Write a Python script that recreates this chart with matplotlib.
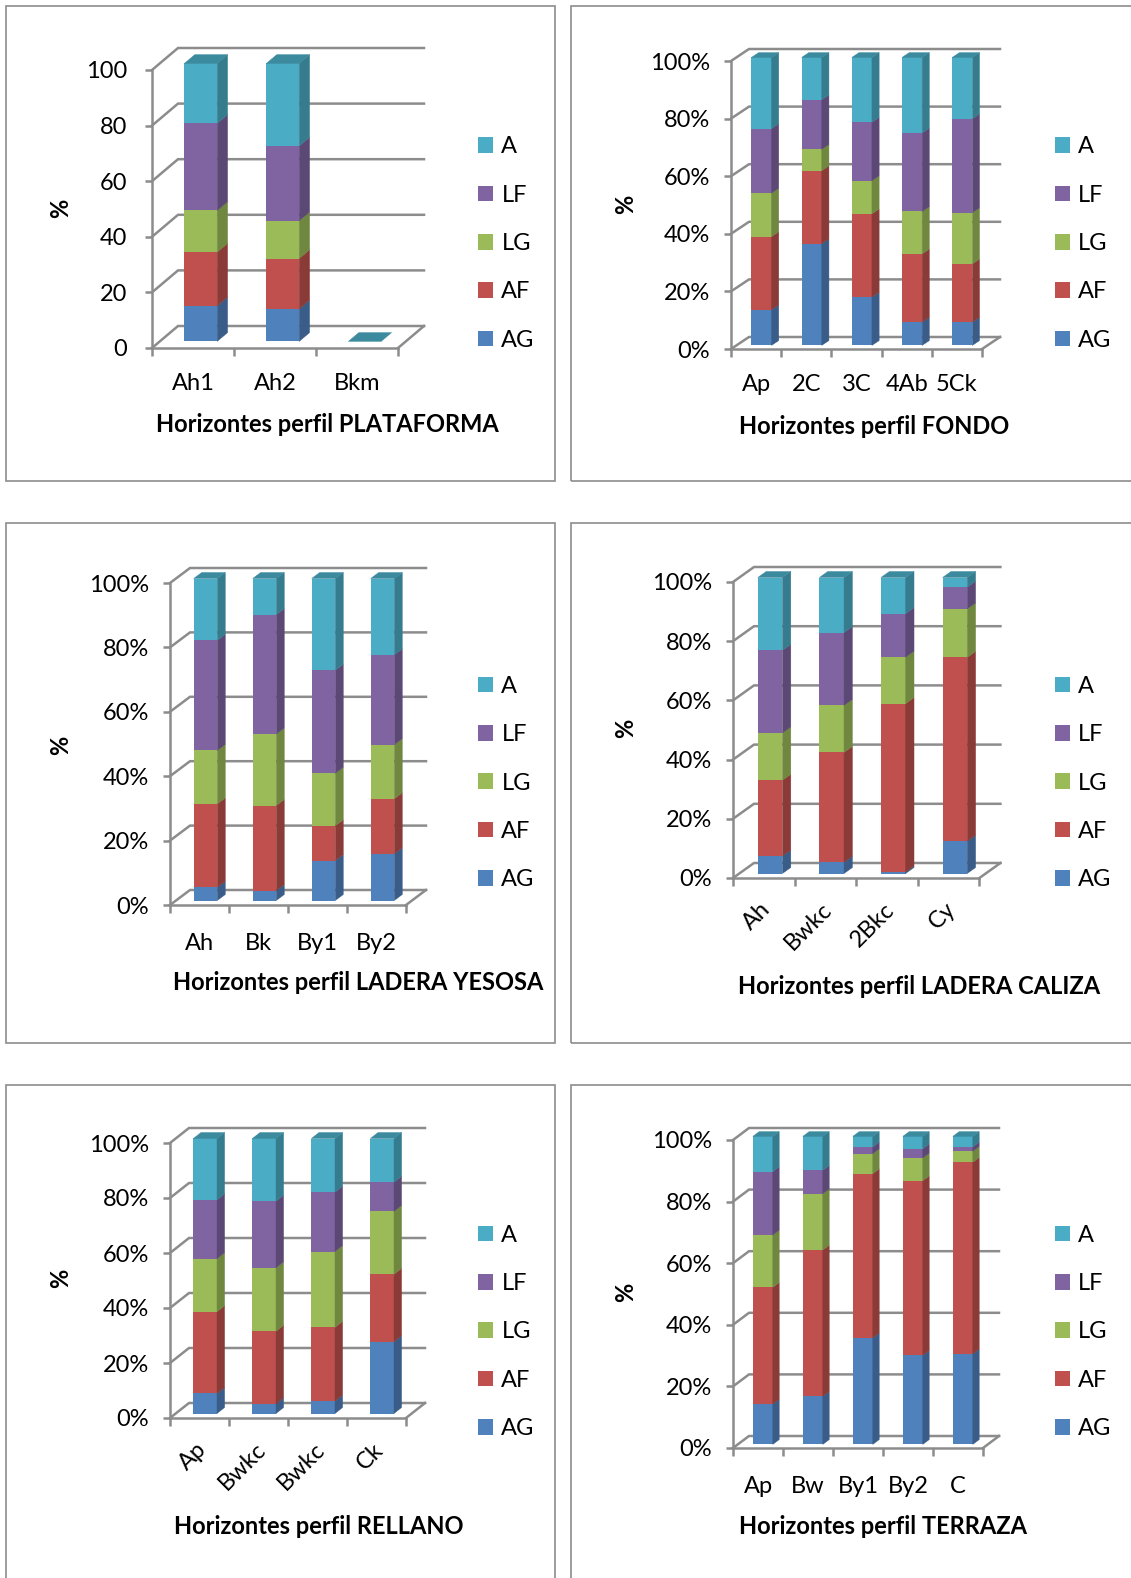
import matplotlib
matplotlib.use("Agg")
import matplotlib.pyplot as plt
import matplotlib.colors as mcolors
from matplotlib.patches import Polygon, Rectangle
from matplotlib.transforms import ScaledTranslation
import numpy as np

plt.rcParams['font.family'] = ['Lato', 'DejaVu Sans']

# Particle-size fractions per horizon (%), series order AG, AF, LG, LF, A
series = ["AG", "AF", "LG", "LF", "A"]
colors = ["#4F81BD", "#C0504D", "#9BBB59", "#8064A2", "#4BACC6"]

plataforma_hz = ["Ah1", "Ah2", "Bkm"]
plataforma = [[12.8, 11.7, 0.0],
              [19.3, 18.1, 0.0],
              [15.0, 13.6, 0.0],
              [31.3, 26.9, 0.0],
              [21.6, 29.7, 0.0]]

fondo_hz = ["Ap", "2C", "3C", "4Ab", "5Ck"]
fondo = [[12.4, 35.3, 16.8, 8.1, 8.1],
         [25.4, 25.4, 28.9, 23.7, 20.2],
         [15.1, 7.4, 11.5, 14.7, 17.8],
         [22.4, 17.2, 20.3, 27.3, 32.6],
         [24.7, 14.7, 22.5, 26.2, 21.3]]

yesosa_hz = ["Ah", "Bk", "By1", "By2"]
yesosa = [[4.1, 3.1, 12.4, 14.5],
          [25.9, 26.4, 10.8, 17.1],
          [16.6, 22.2, 16.3, 16.8],
          [34.2, 37.1, 32.0, 27.9],
          [19.2, 11.2, 28.5, 23.7]]

caliza_hz = ["Ah", "Bwkc", "2Bkc", "Cy"]
caliza = [[5.9, 3.8, 0.5, 10.9],
          [25.6, 37.1, 56.9, 62.1],
          [16.0, 15.9, 15.7, 16.4],
          [27.9, 24.6, 14.7, 7.3],
          [24.6, 18.6, 12.2, 3.3]]

rellano_hz = ["Ap", "Bwkc", "Bwkc", "Ck"]
rellano = [[7.3, 3.5, 4.5, 26.1],
           [29.7, 26.4, 26.8, 24.5],
           [19.3, 23.1, 27.6, 22.9],
           [21.4, 24.2, 21.6, 10.6],
           [22.3, 22.8, 19.5, 15.9]]

terraza_hz = ["Ap", "Bw", "By1", "By2", "C"]
terraza = [[13.1, 15.6, 34.6, 28.9, 29.4],
           [37.9, 47.5, 53.3, 56.7, 62.2],
           [17.0, 18.3, 6.5, 7.4, 3.6],
           [20.6, 7.6, 2.2, 3.0, 1.4],
           [11.4, 11.0, 3.4, 4.0, 3.4]]

W, H = 1131, 1578
GRID = "#8c8c8c"
FS = 17

fig = plt.figure(figsize=(W / 100, H / 100), dpi=100)
fig.patch.set_facecolor("white")


def shade(c, f):
    r, g, b = mcolors.to_rgb(c)
    return (r * f, g * f, b * f)


def panel(box, geom, legend_xy, ylab_xy, title_xy, labels, values, title,
          pct=True, rotate=False, xpad=18, ypad=10):
    # outer frame of the chart
    l, t, r, b = box
    fig.add_artist(Rectangle((l / W, 1 - b / H), (r - l) / W, (b - t) / H,
                             transform=fig.transFigure, fill=False,
                             ec=GRID, lw=1.2))

    x0, y0, y100, cw, dxp, dyp = geom
    n = len(labels)
    ppu = (y0 - y100) / 100.0
    DX, DY = dxp / cw, dyp / ppu
    ax = fig.add_axes([x0 / W, 1 - y0 / H, (n * cw + dxp) / W,
                       (y0 - y100 + dyp) / H])
    ax.set_xlim(0, n + DX)
    ax.set_ylim(0, 100 + DY)
    ax.patch.set_visible(False)

    def proj(x, y, z):
        return (x + z * DX, y + z * DY)

    # walls and floor
    for v in range(0, 101, 20):
        ax.plot([0, DX, n + DX], [v, v + DY, v + DY], color=GRID, lw=1.8,
                zorder=1, clip_on=False, solid_joinstyle="miter")
    ax.plot([n, n + DX], [0, DY], color=GRID, lw=1.8, zorder=1, clip_on=False)

    # 3D stacked columns
    bw, z0, z1 = 0.4, 0.3, 0.7
    xl = np.arange(n) + 0.5 - bw / 2
    bottoms = np.zeros(n)
    for k, name in enumerate(series):
        vals = np.asarray(values[k], float)
        ax.bar(xl + z0 * DX, vals, width=bw, bottom=bottoms + z0 * DY,
               align="edge", color=colors[k], lw=0, zorder=3, label=name,
               clip_on=False)
        for i in range(n):
            if vals[i] <= 0:
                continue
            xr = xl[i] + bw
            lo, hi = bottoms[i], bottoms[i] + vals[i]
            side = [proj(xr, lo, z0), proj(xr, lo, z1),
                    proj(xr, hi, z1), proj(xr, hi, z0)]
            ax.add_patch(Polygon(side, closed=True, fc=shade(colors[k], 0.72),
                                 ec=shade(colors[k], 0.72), lw=0.3, zorder=3,
                                 clip_on=False))
        bottoms += vals
    for i in range(n):
        nz = [k for k in range(len(series)) if values[k][i] > 0]
        k = nz[-1] if nz else len(series) - 1
        top = bottoms[i]
        face = [proj(xl[i], top, z0), proj(xl[i] + bw, top, z0),
                proj(xl[i] + bw, top, z1), proj(xl[i], top, z1)]
        ax.add_patch(Polygon(face, closed=True, fc=shade(colors[k], 0.8),
                             ec=shade(colors[k], 0.8), lw=0.3, zorder=3,
                             clip_on=False))

    # axes
    for s in ("top", "right"):
        ax.spines[s].set_visible(False)
    for s in ("left", "bottom"):
        ax.spines[s].set_color(GRID)
        ax.spines[s].set_linewidth(1.8)
    ax.spines["left"].set_bounds(0, 100)
    ax.spines["bottom"].set_bounds(0, n)
    yt = list(range(0, 101, 20))
    ax.set_yticks(yt)
    ax.set_yticklabels([f"{v}%" if pct else f"{v}" for v in yt], fontsize=FS)
    ax.tick_params(axis="y", length=5, width=1.8, color=GRID, pad=ypad)
    ax.set_xticks(np.arange(n) + 0.5)
    ax.set_xticks(np.arange(n + 1), minor=True)
    ax.tick_params(axis="x", which="major", length=0, pad=xpad)
    ax.tick_params(axis="x", which="minor", length=6, width=1.8, color=GRID)
    if rotate:
        ax.set_xticklabels(labels, fontsize=FS, rotation=45, ha="right")
        off = ScaledTranslation(11 / 100, 0, fig.dpi_scale_trans)
        for lab in ax.get_xticklabels():
            lab.set_transform(lab.get_transform() + off)
    else:
        ax.set_xticklabels(labels, fontsize=FS)

    ax.set_ylabel("%", fontsize=FS, fontweight="bold")
    ax.yaxis.set_label_coords(ylab_xy[0] / W, 1 - ylab_xy[1] / H,
                              transform=fig.transFigure)
    ax.yaxis.label.set_va("center")
    ax.set_xlabel(title, fontsize=FS, fontweight="bold")
    ax.xaxis.set_label_coords(title_xy[0] / W, 1 - title_xy[1] / H,
                              transform=fig.transFigure)
    ax.xaxis.label.set_va("center")

    h, lb = ax.get_legend_handles_labels()
    ax.legend(h[::-1], lb[::-1], loc="center left",
              bbox_to_anchor=(legend_xy[0] / W, 1 - legend_xy[1] / H),
              bbox_transform=fig.transFigure, frameon=False, fontsize=FS,
              handlelength=0.64, handleheight=0.64, handletextpad=0.35,
              labelspacing=1.16, borderpad=0, borderaxespad=0)
    return ax


panel((6, 6, 555, 481), (152, 348, 70, 82, 26, 22), (478, 243.5), (61, 208),
      (327, 424), plataforma_hz, plataforma,
      "Horizontes perfil PLATAFORMA", pct=False, ypad=13)
panel((571, 6, 1140, 481), (731, 349, 61, 50.2, 18, 12), (1055, 243.5),
      (626, 204), (874, 426), fondo_hz, fondo, "Horizontes perfil FONDO")
panel((6, 523, 555, 1043), (170, 905, 583, 59, 20, 15), (478, 783),
      (61, 745), (358, 983), yesosa_hz, yesosa,
      "Horizontes perfil LADERA YESOSA", xpad=20)
panel((571, 523, 1140, 1043), (733, 878, 582, 61.6, 21, 15), (1055, 783),
      (626, 728), (919, 986), caliza_hz, caliza,
      "Horizontes perfil LADERA CALIZA", rotate=True, xpad=15)
panel((6, 1085, 555, 1590), (170, 1418, 1143, 59, 19, 15), (478, 1332),
      (61, 1278), (319, 1526), rellano_hz, rellano,
      "Horizontes perfil RELLANO", rotate=True, xpad=15)
panel((571, 1085, 1140, 1590), (733, 1448, 1140, 50, 16, 12), (1055, 1332),
      (626, 1292), (883, 1526), terraza_hz, terraza,
      "Horizontes perfil TERRAZA", xpad=20)

fig.savefig("out.png", dpi=100)
